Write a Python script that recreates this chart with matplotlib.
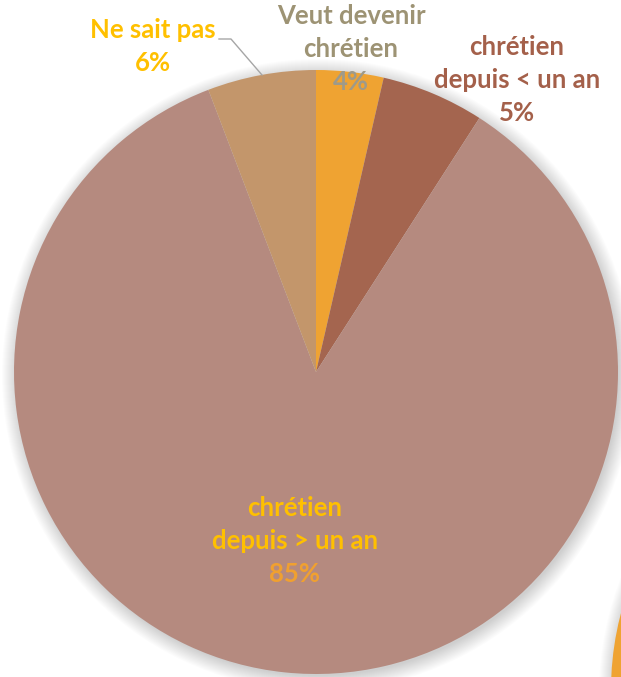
import matplotlib
matplotlib.use("Agg")
import matplotlib.pyplot as plt
from matplotlib.patches import Circle

categories = ["Veut devenir\nchrétien", "chrétien\ndepuis < un an", "chrétien\ndepuis > un an", "Ne sait pas"]
values = [3.6, 5.5, 85.1, 5.8]
pct_labels = ["4%", "5%", "85%", "6%"]
colors = ["#EFA332", "#A4654F", "#B58A7F", "#C3966B"]

W, H = 621, 677
fig = plt.figure(figsize=(W / 100, H / 100), dpi=100)
ax = fig.add_axes([0, 0, 1, 1])

cx, cy, r = 316, H - 372, 302

# soft shadows
for i in range(16):
    ax.add_patch(Circle((cx + 2, cy - 3), r + 14 - i, color="#000000", alpha=0.012, lw=0, zorder=0))
for i in range(16):
    ax.add_patch(Circle((913 + 2, H - 690 - 3), r + 14 - i, color="#000000", alpha=0.012, lw=0, zorder=0))
ax.add_patch(Circle((913, H - 690), r, color="#EFA332", lw=0, zorder=1))

ax.pie(values, colors=colors, startangle=90, counterclock=False, center=(cx, cy), radius=r,
       wedgeprops=dict(linewidth=0), frame=True)

fam = ["Lato", "DejaVu Sans"]
fs = 18.5
lh = 33

def lbl(x, y, lines, cols):
    for k, (t, c) in enumerate(zip(lines, cols)):
        ax.text(x, H - (y + k * lh), t, ha="center", va="center", fontsize=fs,
                fontweight="bold", color=c, family=fam, zorder=5)

lbl(351, 16, categories[0].split("\n") + [pct_labels[0]], ["#9D9374", "#9D9374", "#9E9A8A"])
lbl(517, 47, categories[1].split("\n") + [pct_labels[1]], ["#A4604A"] * 3)
lbl(295, 508, categories[2].split("\n") + [pct_labels[2]], ["#FFC000", "#FFC000", "#F0A030"])
lbl(153, 30, [categories[3], pct_labels[3]], ["#FFC000", "#FFC000"])

ax.plot([219, 231, 262], [H - 39, H - 39, H - 75], color="#A6A6A6", lw=1, zorder=4)

ax.set_xlim(0, W)
ax.set_ylim(0, H)
ax.set_aspect("equal")
ax.axis("off")
fig.savefig("out.png", dpi=100, facecolor="white")
